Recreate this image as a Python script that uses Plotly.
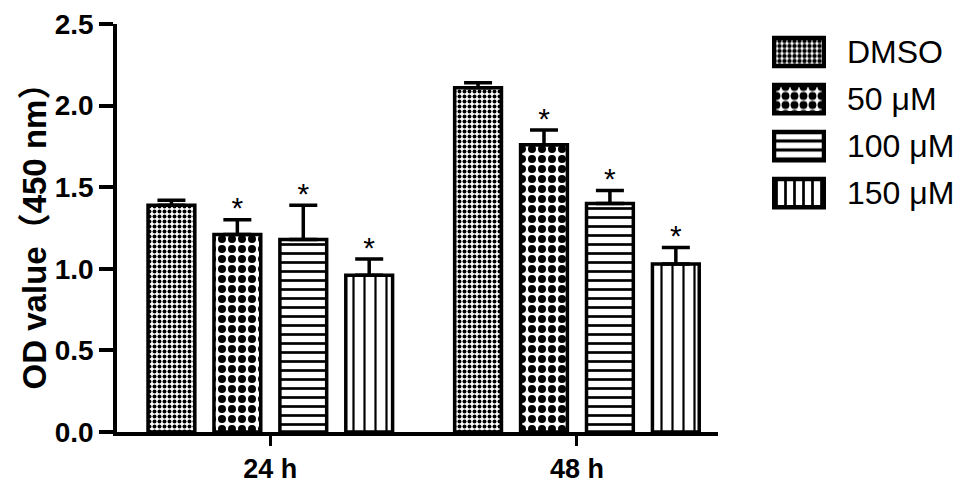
import plotly.graph_objects as go

# data
time_points = ["24 h", "48 h"]
groups = ["DMSO", "50 μM", "100 μM", "150 μM"]
od_dmso = [1.39, 2.11]
od_50 = [1.21, 1.76]
od_100 = [1.18, 1.40]
od_150 = [0.96, 1.03]
err_dmso = [0.03, 0.03]
err_50 = [0.09, 0.09]
err_100 = [0.21, 0.08]
err_150 = [0.10, 0.10]
stars = ["", "*", "*", "*"]

means = [od_dmso, od_50, od_100, od_150]
errs = [err_dmso, err_50, err_100, err_150]

FONT = "Arial, Liberation Sans, Noto Sans CJK SC, sans-serif"
CJK = "font-family:'Noto Sans CJK SC'"

# the page body adds an 8 px margin, so the figure is drawn 8 px smaller
W, H = 961, 480

# pattern for each series (shape, tile size, solidity)
patterns = [
    dict(shape=".", size=5, solidity=0.5),
    dict(shape=".", size=10, solidity=0.5),
    dict(shape="-", size=9, solidity=0.3),
    dict(shape="|", size=11, solidity=0.2),
]
legend_patterns = [
    dict(shape=".", size=5, solidity=0.6),
    dict(shape=".", size=9, solidity=0.6),
    dict(shape="-", size=9, solidity=0.35),
    dict(shape="|", size=9, solidity=0.3),
]

xpos = list(range(len(time_points)))

fig = go.Figure()

for name, y, e, pat in zip(groups, means, errs, patterns):
    fig.add_trace(go.Bar(
        x=xpos, y=y, name=name, offsetgroup=name,
        marker=dict(color="white",
                    line=dict(color="black", width=3.5),
                    pattern=dict(fgcolor="black", bgcolor="white", fgopacity=1,
                                 fillmode="overlay", **pat)),
        error_y=dict(type="data", symmetric=False, array=e, arrayminus=[0] * len(e),
                     color="black", thickness=3.5, width=14),
        showlegend=False, hoverinfo="skip",
    ))

# significance stars above the error bars
for name, y, e, s in zip(groups, means, errs, stars):
    fig.add_trace(go.Scatter(
        x=xpos, y=[m + d + 0.055 for m, d in zip(y, e)],
        mode="text", text=[s] * len(y), offsetgroup=name,
        textfont=dict(family=FONT, size=30, color="black"),
        textposition="middle center",
        showlegend=False, hoverinfo="skip",
    ))

# legend drawn as a small side subplot so the swatches can carry the patterns
fig.add_trace(go.Bar(
    x=[1] * len(groups), y=groups, orientation="h", width=0.6,
    xaxis="x2", yaxis="y2",
    marker=dict(color="white",
                line=dict(color="black", width=4.5),
                pattern=dict(fgcolor="black", bgcolor="white", fgopacity=1, fillmode="overlay",
                             shape=[p["shape"] for p in legend_patterns],
                             size=[p["size"] for p in legend_patterns],
                             solidity=[p["solidity"] for p in legend_patterns])),
    showlegend=False, hoverinfo="skip",
))

y_title = f"OD value<span style=\"{CJK}\">（</span>450 nm<span style=\"{CJK}\">）</span>"

fig.update_layout(
    width=W, height=H,
    margin=dict(l=0, r=0, t=16, b=56),
    paper_bgcolor="white", plot_bgcolor="white",
    barmode="group", bargap=0.14, bargroupgap=0.29,
    scattermode="group", scattergap=0.14,
    font=dict(family=FONT, color="black"),
    xaxis=dict(
        domain=[109 / W, 710 / W],
        range=[-0.5, 1.46],
        tickvals=xpos, ticktext=time_points,
        showline=True, linecolor="black", linewidth=3.5,
        ticks="outside", ticklen=10, tickwidth=3, tickcolor="black",
        tickfont=dict(family=FONT, size=27, weight="bold"),
        showgrid=False, zeroline=False,
    ),
    yaxis=dict(
        range=[0, 2.5],
        tickvals=[0, 0.5, 1.0, 1.5, 2.0, 2.5], tickformat=".1f",
        showline=True, linecolor="black", linewidth=3.5,
        ticks="outside", ticklen=14, tickwidth=3.5, tickcolor="black",
        tickfont=dict(family=FONT, size=28, weight="bold"),
        title=dict(text=y_title, standoff=8,
                   font=dict(family=FONT, size=33, weight="bold")),
        showgrid=False, zeroline=False,
    ),
    xaxis2=dict(
        domain=[764 / W, 818 / W], range=[-0.04, 1.04],
        anchor="y2", visible=False, fixedrange=True,
    ),
    yaxis2=dict(
        domain=[0.528, 0.989], anchor="x2", side="right",
        autorange="reversed", type="category",
        showline=False, showgrid=False, zeroline=False, ticks="",
        ticklabelstandoff=20,
        tickfont=dict(family=FONT, size=32),
    ),
)

fig.write_html("out.html")
